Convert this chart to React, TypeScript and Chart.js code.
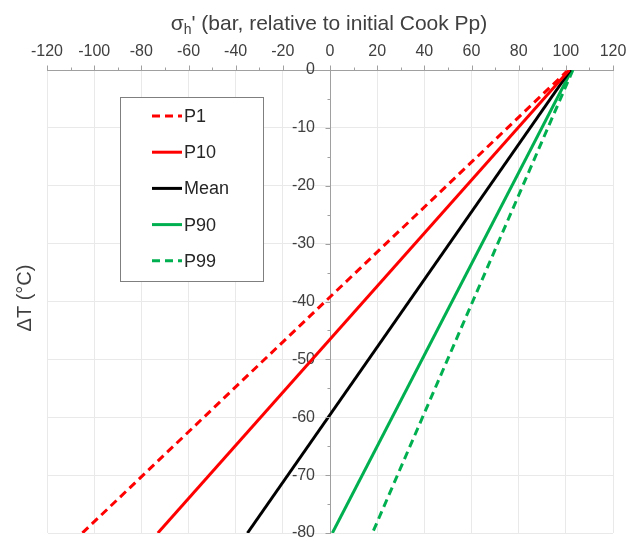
import React, { useEffect, useRef } from 'react';
import { Chart, registerables } from 'chart.js';

Chart.register(...registerables);

// ---- data ----
const seriesNames = ['P1', 'P10', 'Mean', 'P90', 'P99'];
const deltaT = [0, -80]; // °C, y values of each line's two end points
const p1Sigma = [101, -105];
const p10Sigma = [101.5, -73];
const meanSigma = [102, -35];
const p90Sigma = [102.5, 1];
const p99Sigma = [103, 18];
const seriesSigma = [p1Sigma, p10Sigma, meanSigma, p90Sigma, p99Sigma];
const seriesColors = ['#ff0000', '#ff0000', '#000000', '#00b050', '#00b050'];
const seriesDashed = [true, false, false, false, true];

const xMin = -120;
const xMax = 120;
const xStep = 20;
const yMin = -80;
const yMax = 0;
const yStep = 10;
const yAxisAtX = 0;

const xTitleMain = 'σ';
const xTitleSub = 'h';
const xTitleRest = "' (bar, relative to initial Cook Pp)";
const yTitle = 'ΔT (°C)';

const FONT = '"Liberation Sans", Arial, sans-serif';
const TEXT = '#404040';
const AXIS = '#a0a0a0';
const GRID = '#e9e9e9';

const decorPlugin = {
  id: 'decor',
  afterLayout(chart: any) {
    // place the y axis on x = 0 (crossing axis), labels to its left
    const ys = chart.scales.y;
    const px = chart.scales.x.getPixelForValue(yAxisAtX);
    ys.left = px - 60;
    ys.right = px;
    ys.width = 60;
    ys._labelItems = null;
    ys._gridLineItems = null;
  },
  afterDraw(chart: any) {
    const ctx = chart.ctx as CanvasRenderingContext2D;
    const xs = chart.scales.x;
    const ys = chart.scales.y;
    const area = chart.chartArea;
    const axisY = Math.round(area.top) + 0.5;
    const axisX = Math.round(xs.getPixelForValue(yAxisAtX)) + 0.5;
    ctx.save();
    // tick marks
    ctx.strokeStyle = AXIS;
    ctx.lineWidth = 1;
    ctx.beginPath();
    for (let v = xMin; v <= xMax; v += xStep / 2) {
      const px = Math.round(xs.getPixelForValue(v)) + 0.5;
      const len = v % xStep === 0 ? 5 : 3;
      ctx.moveTo(px, axisY);
      ctx.lineTo(px, axisY - len);
    }
    for (let v = yMin; v <= yMax; v += yStep / 2) {
      const py = Math.round(ys.getPixelForValue(v)) + 0.5;
      const len = v % yStep === 0 ? 5 : 3;
      ctx.moveTo(axisX, py);
      ctx.lineTo(axisX - len, py);
    }
    ctx.stroke();

    // x title (with subscript)
    ctx.fillStyle = TEXT;
    ctx.textBaseline = 'alphabetic';
    ctx.textAlign = 'left';
    const mainFont = `21px ${FONT}`;
    const subFont = `14px ${FONT}`;
    ctx.font = mainFont;
    const w1 = ctx.measureText(xTitleMain).width;
    const w3 = ctx.measureText(xTitleRest).width;
    ctx.font = subFont;
    const w2 = ctx.measureText(xTitleSub).width;
    const total = w1 + w2 + w3;
    let tx = 329 - total / 2;
    const baseY = 30;
    ctx.font = mainFont;
    ctx.fillText(xTitleMain, tx, baseY);
    tx += w1;
    ctx.font = subFont;
    ctx.fillText(xTitleSub, tx, baseY + 4);
    tx += w2;
    ctx.font = mainFont;
    ctx.fillText(xTitleRest, tx, baseY);

    // y title
    ctx.save();
    ctx.translate(25, 298);
    ctx.rotate(-Math.PI / 2);
    ctx.textAlign = 'center';
    ctx.textBaseline = 'middle';
    ctx.font = `20px ${FONT}`;
    ctx.fillText(yTitle, 0, 0);
    ctx.restore();

    // legend box
    const bx = 120.5;
    const by = 97.5;
    const bw = 143;
    const bh = 184;
    ctx.fillStyle = '#ffffff';
    ctx.fillRect(bx, by, bw, bh);
    ctx.strokeStyle = '#7f7f7f';
    ctx.lineWidth = 1;
    ctx.strokeRect(bx, by, bw, bh);
    const rowY0 = 116;
    const rowGap = 36.2;
    chart.data.datasets.forEach((ds: any, i: number) => {
      const y = rowY0 + i * rowGap;
      ctx.strokeStyle = ds.borderColor;
      ctx.lineWidth = ds.borderWidth;
      ctx.setLineDash(ds.borderDash || []);
      ctx.beginPath();
      ctx.moveTo(152, y);
      ctx.lineTo(182, y);
      ctx.stroke();
      ctx.setLineDash([]);
      ctx.fillStyle = '#262626';
      ctx.font = `18px ${FONT}`;
      ctx.textAlign = 'left';
      ctx.textBaseline = 'middle';
      ctx.fillText(ds.label, 184, y + 1);
    });
    ctx.restore();
  },
};

export default function App() {
  const ref = useRef<HTMLCanvasElement>(null);
  useEffect(() => {
    if (!ref.current) return;
    const datasets = seriesNames.map((name, i) => ({
      label: name,
      data: deltaT.map((t, k) => ({ x: seriesSigma[i][k], y: t })),
      borderColor: seriesColors[i],
      backgroundColor: seriesColors[i],
      borderWidth: 3,
      borderDash: seriesDashed[i] ? [8, 5] : [],
      showLine: true,
      pointRadius: 0,
      fill: false,
    }));
    const chart = new Chart(ref.current, {
      type: 'scatter',
      data: { datasets },
      options: {
        animation: false,
        responsive: true,
        maintainAspectRatio: false,
        layout: { padding: { top: 0, left: 47, right: 13, bottom: 8 } },
        plugins: {
          legend: { display: false },
          tooltip: { enabled: false },
          title: { display: false },
        },
        scales: {
          x: {
            type: 'linear',
            position: 'top',
            min: xMin,
            max: xMax,
            afterFit: (s: any) => {
              s.height = 70;
              s.paddingLeft = 0;
              s.paddingRight = 0;
            },
            ticks: {
              stepSize: xStep,
              color: TEXT,
              font: { family: FONT, size: 16 },
              padding: 9,
              maxRotation: 0,
            },
            grid: { color: GRID, drawTicks: false },
            border: { display: true, color: AXIS, width: 1 },
          },
          y: {
            type: 'linear',
            position: 'left',
            min: yMin,
            max: yMax,
            afterFit: (s: any) => {
              s.width = 0;
              s.paddingTop = 0;
              s.paddingBottom = 0;
            },
            ticks: {
              stepSize: yStep,
              color: TEXT,
              font: { family: FONT, size: 16 },
              padding: 15,
            },
            grid: { color: GRID, drawTicks: false },
            border: { display: true, color: AXIS, width: 1 },
          },
        },
      },
      plugins: [decorPlugin],
    });
    return () => chart.destroy();
  }, []);
  return (
    <div style={{ position: 'absolute', left: 0, top: 0, width: 626, height: 541, background: '#fff' }}>
      <canvas ref={ref} />
    </div>
  );
}
